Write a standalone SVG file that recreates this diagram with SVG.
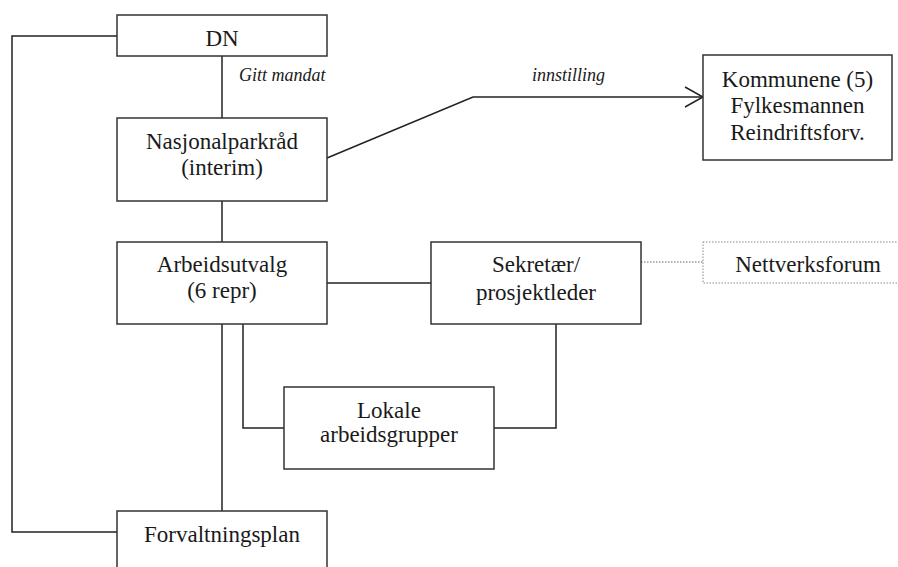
<svg xmlns="http://www.w3.org/2000/svg" width="898" height="567" viewBox="0 0 898 567" font-family="'Liberation Serif', 'Times New Roman', Tinos, 'DejaVu Serif', serif">
<defs>
<style>
.box{fill:#fff;stroke:#333;stroke-width:1.5}
.dot{fill:#fff;stroke:#888;stroke-width:1;stroke-dasharray:1.5 1.5}
.t{font-family:'Liberation Serif','Times New Roman',Tinos,'DejaVu Serif',serif;font-size:23px;fill:#1a1a1a;text-anchor:middle}
.lbl{font-family:'Liberation Serif','Times New Roman',Tinos,'DejaVu Serif',serif;font-size:18px;font-style:italic;fill:#1a1a1a}
.ln{fill:none;stroke:#222;stroke-width:1.5}
.dl{fill:none;stroke:#666;stroke-width:1.2;stroke-dasharray:1.5 1.5}
</style>
</defs>
<rect width="898" height="567" fill="#fff"/>
<g id="connectors">
<polyline class="ln" points="117,36 12,36 12,532 117,532"/>
<line class="ln" x1="222" y1="56" x2="222" y2="118"/>
<line class="ln" x1="222" y1="201" x2="222" y2="242"/>
<line class="ln" x1="222" y1="324" x2="222" y2="511"/>
<polyline class="ln" points="243,324 243,428 284,428"/>
<polyline class="ln" points="556,324 556,428 494,428"/>
<line class="ln" x1="327" y1="283" x2="431" y2="283"/>
<line class="dl" x1="641" y1="262" x2="703" y2="262"/>
<polyline class="ln" points="327,158 473,97 702,97"/>
<polyline class="ln" points="685,87 703,97 685,107"/>
<text class="lbl" x="239" y="81">Gitt mandat</text>
<text class="lbl" x="532" y="81">innstilling</text>
</g>
<g id="dn">
<rect class="box" x="117" y="15" width="210" height="41"/>
<text class="t" x="222" y="46">DN</text>
</g>
<g id="nasjonalparkrad">
<rect class="box" x="117" y="118" width="210" height="83"/>
<text class="t" x="222" y="149">Nasjonalparkråd</text>
<text class="t" x="222" y="175">(interim)</text>
</g>
<g id="kommunene">
<rect class="box" x="703" y="55" width="189" height="105"/>
<text class="t" x="797.5" y="87">Kommunene (5)</text>
<text class="t" x="797.5" y="113">Fylkesmannen</text>
<text class="t" x="797.5" y="140">Reindriftsforv.</text>
</g>
<g id="arbeidsutvalg">
<rect class="box" x="117" y="242" width="210" height="82"/>
<text class="t" x="222" y="272">Arbeidsutvalg</text>
<text class="t" x="222" y="298">(6 repr)</text>
</g>
<g id="sekretaer">
<rect class="box" x="431" y="242" width="210" height="82"/>
<text class="t" x="536" y="272">Sekretær/</text>
<text class="t" x="536" y="300">prosjektleder</text>
</g>
<g id="nettverksforum">
<rect class="dot" x="703" y="242" width="210" height="41"/>
<text class="t" x="808" y="272">Nettverksforum</text>
</g>
<g id="lokale">
<rect class="box" x="284" y="387" width="210" height="82"/>
<text class="t" x="389" y="418">Lokale</text>
<text class="t" x="389" y="442">arbeidsgrupper</text>
</g>
<g id="forvaltningsplan">
<rect class="box" x="117" y="511" width="210" height="70"/>
<text class="t" x="222" y="542">Forvaltningsplan</text>
</g>
</svg>
